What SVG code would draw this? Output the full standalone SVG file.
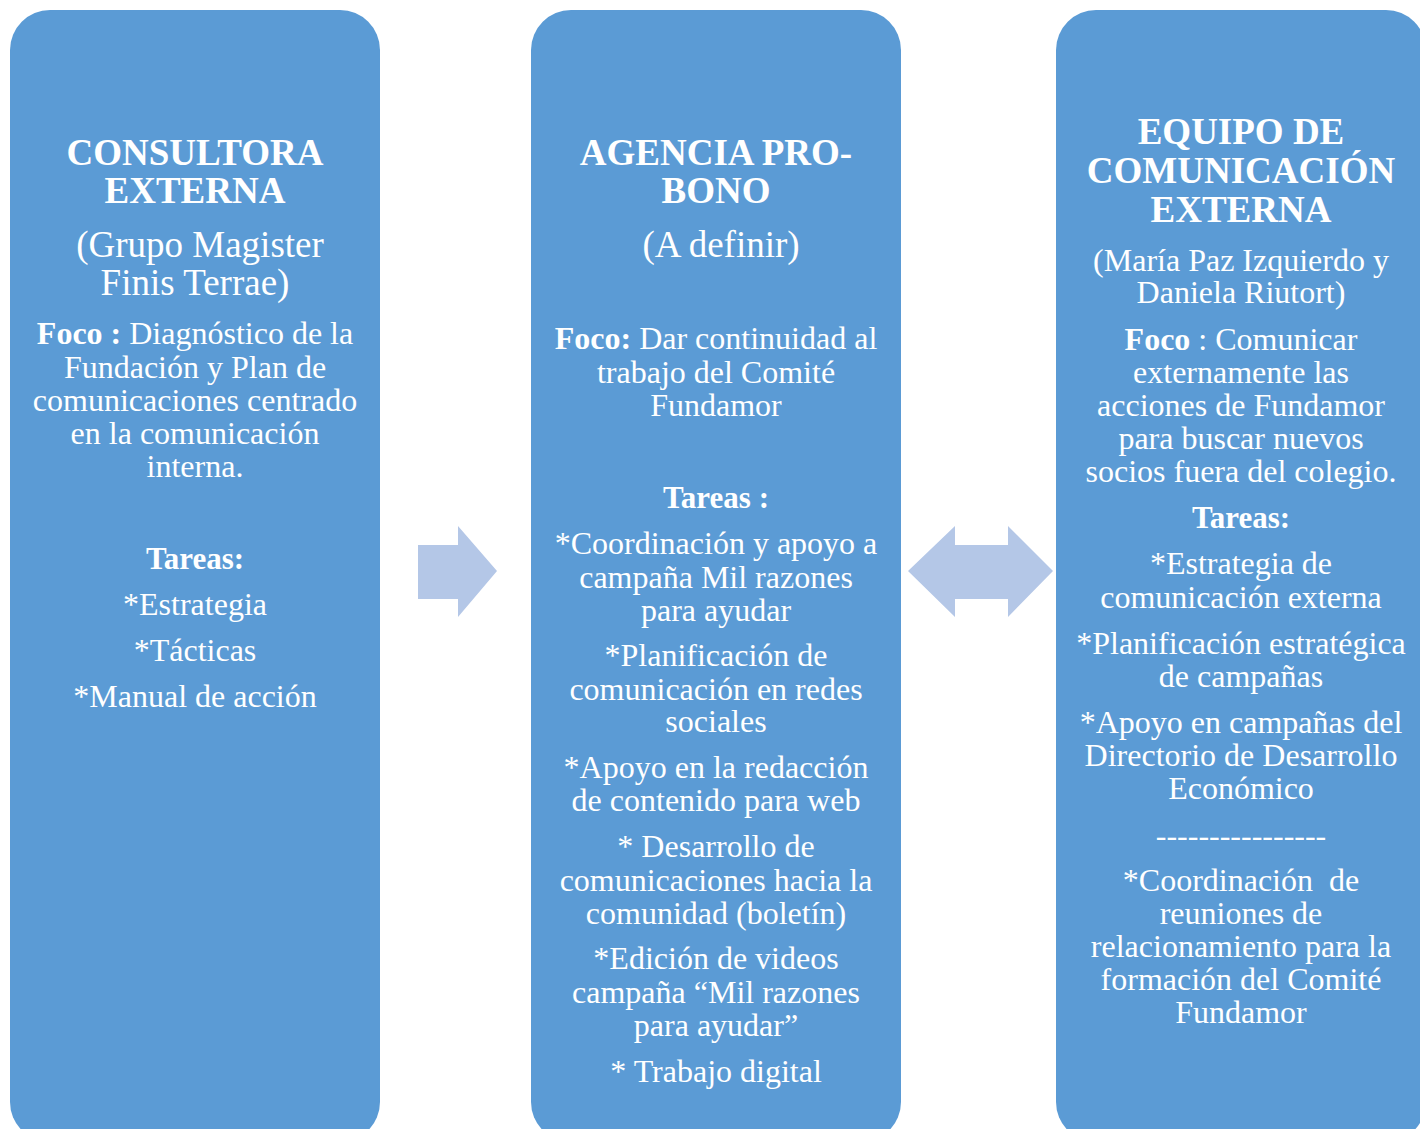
<svg xmlns="http://www.w3.org/2000/svg" width="1420" height="1129" viewBox="0 0 1420 1129">
<style>
.box{fill:#5B9BD5;}
.arr{fill:#B4C7E7;}
text{font-family:"Liberation Serif","Times New Roman",serif;fill:#fff;text-anchor:middle;}
.t{font-size:37px;font-weight:bold;}
.s{font-size:37px;}
.b{font-size:32px;}
.bb{font-size:31px;font-weight:bold;}
.bold{font-weight:bold;}
</style>
<rect width="1420" height="1129" fill="#fff"/>
<g id="connectors">
<polygon class="arr" points="418,545 458,545 458,526 497,571 458,617 458,599 418,599"/>
<polygon class="arr" points="908,571 955,526 955,545 1008,545 1008,526 1053,571 1008,617 1008,599 955,599 955,617"/>
</g>
<g id="node1">
<rect class="box" x="10" y="10" width="370" height="1132" rx="40" ry="40"/>
<text class="t" x="195" y="165">CONSULTORA</text>
<text class="t" x="195" y="203">EXTERNA</text>
<text class="s" x="200" y="257">(Grupo Magister</text>
<text class="s" x="195" y="295">Finis Terrae)</text>
<text class="b" x="195" y="344"><tspan class="bold">Foco :</tspan> Diagnóstico de la</text>
<text class="b" x="195" y="378">Fundación y Plan de</text>
<text class="b" x="195" y="411">comunicaciones centrado</text>
<text class="b" x="195" y="444">en la comunicación</text>
<text class="b" x="195" y="477">interna.</text>
<text class="bb" x="195" y="569">Tareas:</text>
<text class="b" x="195" y="615">*Estrategia</text>
<text class="b" x="195" y="661">*Tácticas</text>
<text class="b" x="195" y="707">*Manual de acción</text>
</g>
<g id="node2">
<rect class="box" x="531" y="10" width="370" height="1132" rx="40" ry="40"/>
<text class="t" x="716" y="165">AGENCIA PRO-</text>
<text class="t" x="716" y="203">BONO</text>
<text class="s" x="721" y="257">(A definir)</text>
<text class="b" x="716" y="349"><tspan class="bold">Foco:</tspan> Dar continuidad al</text>
<text class="b" x="716" y="383">trabajo del Comité</text>
<text class="b" x="716" y="416">Fundamor</text>
<text class="bb" x="716" y="508">Tareas :</text>
<text class="b" x="716" y="554">*Coordinación y apoyo a</text>
<text class="b" x="716" y="588">campaña Mil razones</text>
<text class="b" x="716" y="621">para ayudar</text>
<text class="b" x="716" y="666">*Planificación de</text>
<text class="b" x="716" y="700">comunicación en redes</text>
<text class="b" x="716" y="732">sociales</text>
<text class="b" x="716" y="778">*Apoyo en la redacción</text>
<text class="b" x="716" y="811">de contenido para web</text>
<text class="b" x="716" y="857">* Desarrollo de</text>
<text class="b" x="716" y="891">comunicaciones hacia la</text>
<text class="b" x="716" y="924">comunidad (boletín)</text>
<text class="b" x="716" y="969">*Edición de videos</text>
<text class="b" x="716" y="1003">campaña “Mil razones</text>
<text class="b" x="716" y="1036">para ayudar”</text>
<text class="b" x="716" y="1082">* Trabajo digital</text>
</g>
<g id="node3">
<rect class="box" x="1056" y="10" width="370" height="1132" rx="40" ry="40"/>
<text class="t" x="1241" y="144">EQUIPO DE</text>
<text class="t" x="1241" y="183">COMUNICACIÓN</text>
<text class="t" x="1241" y="222">EXTERNA</text>
<text class="b" x="1241" y="271">(María Paz Izquierdo y</text>
<text class="b" x="1241" y="303">Daniela Riutort)</text>
<text class="b" x="1241" y="350"><tspan class="bold">Foco</tspan> : Comunicar</text>
<text class="b" x="1241" y="383">externamente las</text>
<text class="b" x="1241" y="416">acciones de Fundamor</text>
<text class="b" x="1241" y="449">para buscar nuevos</text>
<text class="b" x="1241" y="482">socios fuera del colegio.</text>
<text class="bb" x="1241" y="528">Tareas:</text>
<text class="b" x="1241" y="574">*Estrategia de</text>
<text class="b" x="1241" y="608">comunicación externa</text>
<text class="b" x="1241" y="654">*Planificación estratégica</text>
<text class="b" x="1241" y="687">de campañas</text>
<text class="b" x="1241" y="733">*Apoyo en campañas del</text>
<text class="b" x="1241" y="766">Directorio de Desarrollo</text>
<text class="b" x="1241" y="799">Económico</text>
<text class="b" x="1241" y="846">----------------</text>
<text class="b" x="1241" y="891" xml:space="preserve">*Coordinación  de</text>
<text class="b" x="1241" y="924">reuniones de</text>
<text class="b" x="1241" y="957">relacionamiento para la</text>
<text class="b" x="1241" y="990">formación del Comité</text>
<text class="b" x="1241" y="1023">Fundamor</text>
</g>
</svg>
